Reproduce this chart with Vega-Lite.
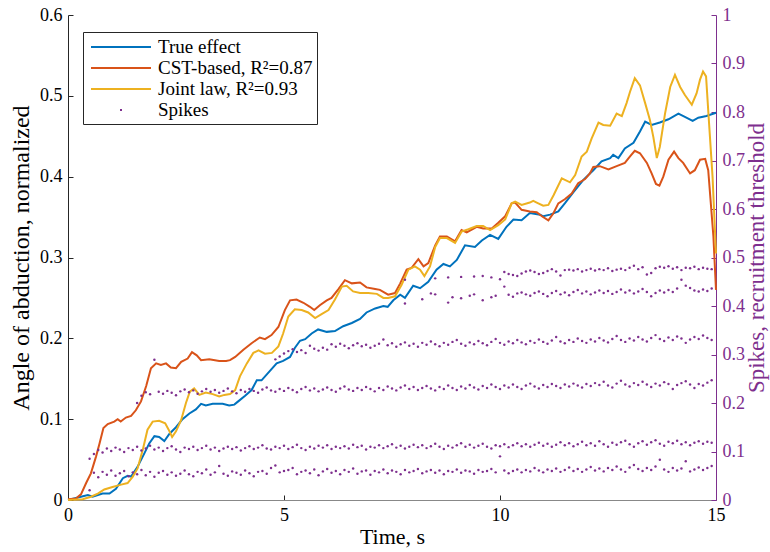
{
"$schema":"https://vega.github.io/schema/vega-lite/v6.json",
"width":648,"height":485,
"autosize":{"type":"none"},
"padding":{"left":68,"top":15,"right":54,"bottom":52},
"background":"white",
"config":{"view":{"stroke":null},"font":"Liberation Serif","axis":{"grid":false,"titleFontWeight":"normal"}},
"datasets":{
"lines":[
{"s":"True effect","t":0,"v":0},{"s":"True effect","t":0.3,"v":0.004},{"s":"True effect","t":0.46,"v":0.006},{"s":"True effect","t":0.57,"v":0.004},{"s":"True effect","t":0.8,"v":0.008},{"s":"True effect","t":0.96,"v":0.008},{"s":"True effect","t":1.11,"v":0.014},{"s":"True effect","t":1.27,"v":0.027},{"s":"True effect","t":1.38,"v":0.03},{"s":"True effect","t":1.46,"v":0.029},{"s":"True effect","t":1.61,"v":0.041},{"s":"True effect","t":1.77,"v":0.058},{"s":"True effect","t":1.88,"v":0.07},{"s":"True effect","t":2.0,"v":0.079},{"s":"True effect","t":2.11,"v":0.078},{"s":"True effect","t":2.23,"v":0.073},{"s":"True effect","t":2.35,"v":0.082},{"s":"True effect","t":2.5,"v":0.09},{"s":"True effect","t":2.65,"v":0.1},{"s":"True effect","t":2.81,"v":0.107},{"s":"True effect","t":2.96,"v":0.112},{"s":"True effect","t":3.08,"v":0.119},{"s":"True effect","t":3.19,"v":0.117},{"s":"True effect","t":3.35,"v":0.119},{"s":"True effect","t":3.58,"v":0.119},{"s":"True effect","t":3.73,"v":0.117},{"s":"True effect","t":3.85,"v":0.118},{"s":"True effect","t":3.94,"v":0.122},{"s":"True effect","t":4.1,"v":0.129},{"s":"True effect","t":4.25,"v":0.136},{"s":"True effect","t":4.37,"v":0.148},{"s":"True effect","t":4.48,"v":0.148},{"s":"True effect","t":4.68,"v":0.16},{"s":"True effect","t":4.83,"v":0.169},{"s":"True effect","t":4.98,"v":0.172},{"s":"True effect","t":5.14,"v":0.177},{"s":"True effect","t":5.25,"v":0.188},{"s":"True effect","t":5.37,"v":0.197},{"s":"True effect","t":5.49,"v":0.199},{"s":"True effect","t":5.64,"v":0.206},{"s":"True effect","t":5.79,"v":0.211},{"s":"True effect","t":5.99,"v":0.208},{"s":"True effect","t":6.18,"v":0.209},{"s":"True effect","t":6.37,"v":0.215},{"s":"True effect","t":6.57,"v":0.219},{"s":"True effect","t":6.76,"v":0.224},{"s":"True effect","t":6.91,"v":0.232},{"s":"True effect","t":7.11,"v":0.237},{"s":"True effect","t":7.3,"v":0.24},{"s":"True effect","t":7.4,"v":0.239},{"s":"True effect","t":7.53,"v":0.247},{"s":"True effect","t":7.69,"v":0.254},{"s":"True effect","t":7.8,"v":0.25},{"s":"True effect","t":7.99,"v":0.265},{"s":"True effect","t":8.15,"v":0.262},{"s":"True effect","t":8.34,"v":0.27},{"s":"True effect","t":8.53,"v":0.285},{"s":"True effect","t":8.69,"v":0.292},{"s":"True effect","t":8.84,"v":0.289},{"s":"True effect","t":9.0,"v":0.297},{"s":"True effect","t":9.19,"v":0.315},{"s":"True effect","t":9.42,"v":0.313},{"s":"True effect","t":9.58,"v":0.321},{"s":"True effect","t":9.77,"v":0.328},{"s":"True effect","t":9.96,"v":0.323},{"s":"True effect","t":10.15,"v":0.338},{"s":"True effect","t":10.31,"v":0.347},{"s":"True effect","t":10.5,"v":0.346},{"s":"True effect","t":10.69,"v":0.355},{"s":"True effect","t":10.93,"v":0.353},{"s":"True effect","t":11.0,"v":0.351},{"s":"True effect","t":11.16,"v":0.353},{"s":"True effect","t":11.35,"v":0.357},{"s":"True effect","t":11.5,"v":0.367},{"s":"True effect","t":11.7,"v":0.381},{"s":"True effect","t":11.93,"v":0.396},{"s":"True effect","t":12.16,"v":0.408},{"s":"True effect","t":12.35,"v":0.419},{"s":"True effect","t":12.55,"v":0.423},{"s":"True effect","t":12.62,"v":0.427},{"s":"True effect","t":12.74,"v":0.423},{"s":"True effect","t":12.89,"v":0.435},{"s":"True effect","t":13.09,"v":0.442},{"s":"True effect","t":13.24,"v":0.456},{"s":"True effect","t":13.36,"v":0.468},{"s":"True effect","t":13.51,"v":0.464},{"s":"True effect","t":13.7,"v":0.467},{"s":"True effect","t":13.9,"v":0.471},{"s":"True effect","t":14.13,"v":0.478},{"s":"True effect","t":14.28,"v":0.474},{"s":"True effect","t":14.46,"v":0.469},{"s":"True effect","t":14.59,"v":0.473},{"s":"True effect","t":14.78,"v":0.475},{"s":"True effect","t":15.0,"v":0.479},
{"s":"CST-based, R²=0.87","t":0,"v":0.001},{"s":"CST-based, R²=0.87","t":0.19,"v":0.002},{"s":"CST-based, R²=0.87","t":0.3,"v":0.007},{"s":"CST-based, R²=0.87","t":0.42,"v":0.021},{"s":"CST-based, R²=0.87","t":0.53,"v":0.033},{"s":"CST-based, R²=0.87","t":0.65,"v":0.054},{"s":"CST-based, R²=0.87","t":0.73,"v":0.07},{"s":"CST-based, R²=0.87","t":0.82,"v":0.089},{"s":"CST-based, R²=0.87","t":0.92,"v":0.094},{"s":"CST-based, R²=0.87","t":1.07,"v":0.097},{"s":"CST-based, R²=0.87","t":1.15,"v":0.1},{"s":"CST-based, R²=0.87","t":1.22,"v":0.097},{"s":"CST-based, R²=0.87","t":1.34,"v":0.102},{"s":"CST-based, R²=0.87","t":1.46,"v":0.104},{"s":"CST-based, R²=0.87","t":1.57,"v":0.111},{"s":"CST-based, R²=0.87","t":1.69,"v":0.122},{"s":"CST-based, R²=0.87","t":1.81,"v":0.141},{"s":"CST-based, R²=0.87","t":1.92,"v":0.163},{"s":"CST-based, R²=0.87","t":2.04,"v":0.169},{"s":"CST-based, R²=0.87","t":2.15,"v":0.167},{"s":"CST-based, R²=0.87","t":2.27,"v":0.169},{"s":"CST-based, R²=0.87","t":2.38,"v":0.164},{"s":"CST-based, R²=0.87","t":2.5,"v":0.163},{"s":"CST-based, R²=0.87","t":2.62,"v":0.171},{"s":"CST-based, R²=0.87","t":2.77,"v":0.175},{"s":"CST-based, R²=0.87","t":2.87,"v":0.183},{"s":"CST-based, R²=0.87","t":2.98,"v":0.179},{"s":"CST-based, R²=0.87","t":3.08,"v":0.173},{"s":"CST-based, R²=0.87","t":3.27,"v":0.174},{"s":"CST-based, R²=0.87","t":3.5,"v":0.172},{"s":"CST-based, R²=0.87","t":3.66,"v":0.172},{"s":"CST-based, R²=0.87","t":3.75,"v":0.173},{"s":"CST-based, R²=0.87","t":3.87,"v":0.177},{"s":"CST-based, R²=0.87","t":4.06,"v":0.186},{"s":"CST-based, R²=0.87","t":4.25,"v":0.194},{"s":"CST-based, R²=0.87","t":4.44,"v":0.201},{"s":"CST-based, R²=0.87","t":4.56,"v":0.199},{"s":"CST-based, R²=0.87","t":4.71,"v":0.204},{"s":"CST-based, R²=0.87","t":4.87,"v":0.214},{"s":"CST-based, R²=0.87","t":5.02,"v":0.235},{"s":"CST-based, R²=0.87","t":5.14,"v":0.247},{"s":"CST-based, R²=0.87","t":5.29,"v":0.248},{"s":"CST-based, R²=0.87","t":5.45,"v":0.244},{"s":"CST-based, R²=0.87","t":5.6,"v":0.239},{"s":"CST-based, R²=0.87","t":5.7,"v":0.235},{"s":"CST-based, R²=0.87","t":5.83,"v":0.241},{"s":"CST-based, R²=0.87","t":5.99,"v":0.247},{"s":"CST-based, R²=0.87","t":6.1,"v":0.25},{"s":"CST-based, R²=0.87","t":6.26,"v":0.261},{"s":"CST-based, R²=0.87","t":6.41,"v":0.272},{"s":"CST-based, R²=0.87","t":6.57,"v":0.268},{"s":"CST-based, R²=0.87","t":6.76,"v":0.269},{"s":"CST-based, R²=0.87","t":6.91,"v":0.263},{"s":"CST-based, R²=0.87","t":7.11,"v":0.261},{"s":"CST-based, R²=0.87","t":7.22,"v":0.26},{"s":"CST-based, R²=0.87","t":7.41,"v":0.254},{"s":"CST-based, R²=0.87","t":7.57,"v":0.256},{"s":"CST-based, R²=0.87","t":7.69,"v":0.268},{"s":"CST-based, R²=0.87","t":7.84,"v":0.285},{"s":"CST-based, R²=0.87","t":7.95,"v":0.287},{"s":"CST-based, R²=0.87","t":8.11,"v":0.298},{"s":"CST-based, R²=0.87","t":8.23,"v":0.289},{"s":"CST-based, R²=0.87","t":8.34,"v":0.293},{"s":"CST-based, R²=0.87","t":8.5,"v":0.315},{"s":"CST-based, R²=0.87","t":8.61,"v":0.326},{"s":"CST-based, R²=0.87","t":8.77,"v":0.326},{"s":"CST-based, R²=0.87","t":8.96,"v":0.32},{"s":"CST-based, R²=0.87","t":9.11,"v":0.334},{"s":"CST-based, R²=0.87","t":9.23,"v":0.331},{"s":"CST-based, R²=0.87","t":9.46,"v":0.338},{"s":"CST-based, R²=0.87","t":9.61,"v":0.336},{"s":"CST-based, R²=0.87","t":9.81,"v":0.336},{"s":"CST-based, R²=0.87","t":9.96,"v":0.343},{"s":"CST-based, R²=0.87","t":10.12,"v":0.351},{"s":"CST-based, R²=0.87","t":10.27,"v":0.367},{"s":"CST-based, R²=0.87","t":10.35,"v":0.368},{"s":"CST-based, R²=0.87","t":10.5,"v":0.359},{"s":"CST-based, R²=0.87","t":10.69,"v":0.357},{"s":"CST-based, R²=0.87","t":10.85,"v":0.356},{"s":"CST-based, R²=0.87","t":10.97,"v":0.351},{"s":"CST-based, R²=0.87","t":11.12,"v":0.346},{"s":"CST-based, R²=0.87","t":11.24,"v":0.355},{"s":"CST-based, R²=0.87","t":11.35,"v":0.367},{"s":"CST-based, R²=0.87","t":11.5,"v":0.372},{"s":"CST-based, R²=0.87","t":11.66,"v":0.379},{"s":"CST-based, R²=0.87","t":11.81,"v":0.392},{"s":"CST-based, R²=0.87","t":11.97,"v":0.397},{"s":"CST-based, R²=0.87","t":12.08,"v":0.404},{"s":"CST-based, R²=0.87","t":12.16,"v":0.412},{"s":"CST-based, R²=0.87","t":12.31,"v":0.413},{"s":"CST-based, R²=0.87","t":12.51,"v":0.409},{"s":"CST-based, R²=0.87","t":12.7,"v":0.413},{"s":"CST-based, R²=0.87","t":12.89,"v":0.417},{"s":"CST-based, R²=0.87","t":13.01,"v":0.425},{"s":"CST-based, R²=0.87","t":13.12,"v":0.432},{"s":"CST-based, R²=0.87","t":13.24,"v":0.429},{"s":"CST-based, R²=0.87","t":13.4,"v":0.417},{"s":"CST-based, R²=0.87","t":13.51,"v":0.404},{"s":"CST-based, R²=0.87","t":13.61,"v":0.391},{"s":"CST-based, R²=0.87","t":13.69,"v":0.389},{"s":"CST-based, R²=0.87","t":13.78,"v":0.4},{"s":"CST-based, R²=0.87","t":13.9,"v":0.421},{"s":"CST-based, R²=0.87","t":14.03,"v":0.431},{"s":"CST-based, R²=0.87","t":14.13,"v":0.423},{"s":"CST-based, R²=0.87","t":14.24,"v":0.417},{"s":"CST-based, R²=0.87","t":14.4,"v":0.404},{"s":"CST-based, R²=0.87","t":14.51,"v":0.408},{"s":"CST-based, R²=0.87","t":14.63,"v":0.421},{"s":"CST-based, R²=0.87","t":14.75,"v":0.422},{"s":"CST-based, R²=0.87","t":14.82,"v":0.408},{"s":"CST-based, R²=0.87","t":14.94,"v":0.326},{"s":"CST-based, R²=0.87","t":15.0,"v":0.26},
{"s":"Joint law, R²=0.93","t":0,"v":0},{"s":"Joint law, R²=0.93","t":0.34,"v":0.001},{"s":"Joint law, R²=0.93","t":0.53,"v":0.004},{"s":"Joint law, R²=0.93","t":0.69,"v":0.008},{"s":"Joint law, R²=0.93","t":0.84,"v":0.013},{"s":"Joint law, R²=0.93","t":1.03,"v":0.016},{"s":"Joint law, R²=0.93","t":1.23,"v":0.019},{"s":"Joint law, R²=0.93","t":1.38,"v":0.021},{"s":"Joint law, R²=0.93","t":1.5,"v":0.029},{"s":"Joint law, R²=0.93","t":1.61,"v":0.039},{"s":"Joint law, R²=0.93","t":1.73,"v":0.062},{"s":"Joint law, R²=0.93","t":1.84,"v":0.087},{"s":"Joint law, R²=0.93","t":1.96,"v":0.097},{"s":"Joint law, R²=0.93","t":2.11,"v":0.098},{"s":"Joint law, R²=0.93","t":2.25,"v":0.095},{"s":"Joint law, R²=0.93","t":2.33,"v":0.087},{"s":"Joint law, R²=0.93","t":2.41,"v":0.078},{"s":"Joint law, R²=0.93","t":2.5,"v":0.085},{"s":"Joint law, R²=0.93","t":2.62,"v":0.099},{"s":"Joint law, R²=0.93","t":2.73,"v":0.12},{"s":"Joint law, R²=0.93","t":2.82,"v":0.134},{"s":"Joint law, R²=0.93","t":2.92,"v":0.138},{"s":"Joint law, R²=0.93","t":3.04,"v":0.13},{"s":"Joint law, R²=0.93","t":3.19,"v":0.133},{"s":"Joint law, R²=0.93","t":3.35,"v":0.131},{"s":"Joint law, R²=0.93","t":3.5,"v":0.128},{"s":"Joint law, R²=0.93","t":3.62,"v":0.13},{"s":"Joint law, R²=0.93","t":3.75,"v":0.131},{"s":"Joint law, R²=0.93","t":3.87,"v":0.136},{"s":"Joint law, R²=0.93","t":3.98,"v":0.153},{"s":"Joint law, R²=0.93","t":4.14,"v":0.169},{"s":"Joint law, R²=0.93","t":4.29,"v":0.182},{"s":"Joint law, R²=0.93","t":4.41,"v":0.185},{"s":"Joint law, R²=0.93","t":4.56,"v":0.181},{"s":"Joint law, R²=0.93","t":4.72,"v":0.182},{"s":"Joint law, R²=0.93","t":4.87,"v":0.19},{"s":"Joint law, R²=0.93","t":4.98,"v":0.206},{"s":"Joint law, R²=0.93","t":5.1,"v":0.227},{"s":"Joint law, R²=0.93","t":5.25,"v":0.236},{"s":"Joint law, R²=0.93","t":5.41,"v":0.235},{"s":"Joint law, R²=0.93","t":5.56,"v":0.232},{"s":"Joint law, R²=0.93","t":5.72,"v":0.225},{"s":"Joint law, R²=0.93","t":5.87,"v":0.23},{"s":"Joint law, R²=0.93","t":6.03,"v":0.235},{"s":"Joint law, R²=0.93","t":6.18,"v":0.248},{"s":"Joint law, R²=0.93","t":6.34,"v":0.264},{"s":"Joint law, R²=0.93","t":6.45,"v":0.265},{"s":"Joint law, R²=0.93","t":6.6,"v":0.258},{"s":"Joint law, R²=0.93","t":6.76,"v":0.256},{"s":"Joint law, R²=0.93","t":6.95,"v":0.256},{"s":"Joint law, R²=0.93","t":7.15,"v":0.255},{"s":"Joint law, R²=0.93","t":7.3,"v":0.25},{"s":"Joint law, R²=0.93","t":7.41,"v":0.25},{"s":"Joint law, R²=0.93","t":7.57,"v":0.252},{"s":"Joint law, R²=0.93","t":7.72,"v":0.266},{"s":"Joint law, R²=0.93","t":7.88,"v":0.285},{"s":"Joint law, R²=0.93","t":8.03,"v":0.289},{"s":"Joint law, R²=0.93","t":8.15,"v":0.285},{"s":"Joint law, R²=0.93","t":8.25,"v":0.277},{"s":"Joint law, R²=0.93","t":8.38,"v":0.289},{"s":"Joint law, R²=0.93","t":8.5,"v":0.313},{"s":"Joint law, R²=0.93","t":8.61,"v":0.324},{"s":"Joint law, R²=0.93","t":8.77,"v":0.324},{"s":"Joint law, R²=0.93","t":8.96,"v":0.318},{"s":"Joint law, R²=0.93","t":9.11,"v":0.332},{"s":"Joint law, R²=0.93","t":9.27,"v":0.335},{"s":"Joint law, R²=0.93","t":9.46,"v":0.339},{"s":"Joint law, R²=0.93","t":9.61,"v":0.339},{"s":"Joint law, R²=0.93","t":9.77,"v":0.334},{"s":"Joint law, R²=0.93","t":9.96,"v":0.34},{"s":"Joint law, R²=0.93","t":10.12,"v":0.347},{"s":"Joint law, R²=0.93","t":10.27,"v":0.367},{"s":"Joint law, R²=0.93","t":10.35,"v":0.369},{"s":"Joint law, R²=0.93","t":10.5,"v":0.365},{"s":"Joint law, R²=0.93","t":10.69,"v":0.368},{"s":"Joint law, R²=0.93","t":10.77,"v":0.37},{"s":"Joint law, R²=0.93","t":10.85,"v":0.368},{"s":"Joint law, R²=0.93","t":11.0,"v":0.364},{"s":"Joint law, R²=0.93","t":11.12,"v":0.365},{"s":"Joint law, R²=0.93","t":11.24,"v":0.377},{"s":"Joint law, R²=0.93","t":11.43,"v":0.398},{"s":"Joint law, R²=0.93","t":11.62,"v":0.393},{"s":"Joint law, R²=0.93","t":11.74,"v":0.402},{"s":"Joint law, R²=0.93","t":11.89,"v":0.425},{"s":"Joint law, R²=0.93","t":12.01,"v":0.431},{"s":"Joint law, R²=0.93","t":12.12,"v":0.447},{"s":"Joint law, R²=0.93","t":12.28,"v":0.467},{"s":"Joint law, R²=0.93","t":12.39,"v":0.464},{"s":"Joint law, R²=0.93","t":12.55,"v":0.463},{"s":"Joint law, R²=0.93","t":12.7,"v":0.478},{"s":"Joint law, R²=0.93","t":12.82,"v":0.475},{"s":"Joint law, R²=0.93","t":12.93,"v":0.491},{"s":"Joint law, R²=0.93","t":13.01,"v":0.505},{"s":"Joint law, R²=0.93","t":13.12,"v":0.522},{"s":"Joint law, R²=0.93","t":13.24,"v":0.513},{"s":"Joint law, R²=0.93","t":13.36,"v":0.491},{"s":"Joint law, R²=0.93","t":13.47,"v":0.47},{"s":"Joint law, R²=0.93","t":13.55,"v":0.449},{"s":"Joint law, R²=0.93","t":13.63,"v":0.423},{"s":"Joint law, R²=0.93","t":13.7,"v":0.437},{"s":"Joint law, R²=0.93","t":13.82,"v":0.478},{"s":"Joint law, R²=0.93","t":13.94,"v":0.511},{"s":"Joint law, R²=0.93","t":14.05,"v":0.526},{"s":"Joint law, R²=0.93","t":14.17,"v":0.511},{"s":"Joint law, R²=0.93","t":14.28,"v":0.501},{"s":"Joint law, R²=0.93","t":14.44,"v":0.489},{"s":"Joint law, R²=0.93","t":14.55,"v":0.503},{"s":"Joint law, R²=0.93","t":14.63,"v":0.52},{"s":"Joint law, R²=0.93","t":14.7,"v":0.53},{"s":"Joint law, R²=0.93","t":14.77,"v":0.524},{"s":"Joint law, R²=0.93","t":14.82,"v":0.482},{"s":"Joint law, R²=0.93","t":14.92,"v":0.4},{"s":"Joint law, R²=0.93","t":15.0,"v":0.305}
],
"spikes":[
{"t":0.5,"v":0.02},{"t":0.6,"v":0.056},{"t":0.7,"v":0.047},{"t":0.8,"v":0.058},{"t":0.9,"v":0.052},{"t":1.0,"v":0.061},{"t":1.1,"v":0.05},{"t":1.2,"v":0.055},{"t":1.3,"v":0.06},{"t":1.4,"v":0.049},{"t":1.5,"v":0.057},{"t":1.6,"v":0.053},{"t":1.7,"v":0.062},{"t":1.8,"v":0.051},{"t":1.9,"v":0.058},{"t":2.0,"v":0.048},{"t":2.1,"v":0.056},{"t":2.2,"v":0.06},{"t":2.3,"v":0.052},{"t":2.4,"v":0.057},{"t":2.5,"v":0.05},{"t":2.6,"v":0.054},{"t":2.7,"v":0.061},{"t":2.8,"v":0.053},{"t":2.9,"v":0.049},{"t":3.0,"v":0.058},{"t":3.1,"v":0.055},{"t":3.2,"v":0.063},{"t":3.3,"v":0.052},{"t":3.4,"v":0.057},{"t":3.5,"v":0.07},{"t":3.6,"v":0.054},{"t":3.7,"v":0.05},{"t":3.8,"v":0.059},{"t":3.9,"v":0.056},{"t":4.0,"v":0.052},{"t":4.1,"v":0.061},{"t":4.2,"v":0.055},{"t":4.3,"v":0.049},{"t":4.4,"v":0.058},{"t":4.5,"v":0.06},{"t":4.6,"v":0.054},{"t":4.7,"v":0.066},{"t":4.8,"v":0.071},{"t":4.9,"v":0.057},{"t":5.0,"v":0.06},{"t":5.1,"v":0.062},{"t":5.2,"v":0.066},{"t":5.3,"v":0.053},{"t":5.4,"v":0.058},{"t":5.5,"v":0.061},{"t":5.6,"v":0.055},{"t":5.7,"v":0.063},{"t":5.8,"v":0.051},{"t":5.9,"v":0.059},{"t":6.0,"v":0.064},{"t":6.1,"v":0.056},{"t":6.2,"v":0.06},{"t":6.3,"v":0.053},{"t":6.4,"v":0.062},{"t":6.5,"v":0.058},{"t":6.6,"v":0.065},{"t":6.7,"v":0.054},{"t":6.8,"v":0.059},{"t":6.9,"v":0.061},{"t":7.0,"v":0.052},{"t":7.1,"v":0.06},{"t":7.2,"v":0.057},{"t":7.3,"v":0.063},{"t":7.4,"v":0.055},{"t":7.5,"v":0.061},{"t":7.6,"v":0.058},{"t":7.7,"v":0.053},{"t":7.8,"v":0.062},{"t":7.9,"v":0.057},{"t":8.0,"v":0.06},{"t":8.1,"v":0.064},{"t":8.2,"v":0.055},{"t":8.3,"v":0.059},{"t":8.4,"v":0.062},{"t":8.5,"v":0.056},{"t":8.6,"v":0.061},{"t":8.7,"v":0.053},{"t":8.8,"v":0.06},{"t":8.9,"v":0.058},{"t":9.0,"v":0.063},{"t":9.1,"v":0.056},{"t":9.2,"v":0.061},{"t":9.3,"v":0.059},{"t":9.4,"v":0.054},{"t":9.5,"v":0.062},{"t":9.6,"v":0.058},{"t":9.7,"v":0.06},{"t":9.8,"v":0.064},{"t":9.9,"v":0.057},{"t":10.0,"v":0.09},{"t":10.1,"v":0.061},{"t":10.2,"v":0.055},{"t":10.3,"v":0.06},{"t":10.4,"v":0.063},{"t":10.5,"v":0.057},{"t":10.6,"v":0.062},{"t":10.7,"v":0.059},{"t":10.8,"v":0.066},{"t":10.9,"v":0.061},{"t":11.0,"v":0.057},{"t":11.1,"v":0.063},{"t":11.2,"v":0.06},{"t":11.3,"v":0.065},{"t":11.4,"v":0.058},{"t":11.5,"v":0.062},{"t":11.6,"v":0.067},{"t":11.7,"v":0.06},{"t":11.8,"v":0.064},{"t":11.9,"v":0.058},{"t":12.0,"v":0.063},{"t":12.1,"v":0.068},{"t":12.2,"v":0.061},{"t":12.3,"v":0.065},{"t":12.4,"v":0.059},{"t":12.5,"v":0.066},{"t":12.6,"v":0.062},{"t":12.7,"v":0.069},{"t":12.8,"v":0.063},{"t":12.9,"v":0.058},{"t":13.0,"v":0.067},{"t":13.1,"v":0.072},{"t":13.2,"v":0.064},{"t":13.3,"v":0.06},{"t":13.4,"v":0.066},{"t":13.5,"v":0.062},{"t":13.6,"v":0.069},{"t":13.7,"v":0.083},{"t":13.8,"v":0.063},{"t":13.9,"v":0.058},{"t":14.0,"v":0.066},{"t":14.1,"v":0.061},{"t":14.2,"v":0.065},{"t":14.3,"v":0.08},{"t":14.4,"v":0.059},{"t":14.5,"v":0.063},{"t":14.6,"v":0.067},{"t":14.7,"v":0.062},{"t":14.8,"v":0.066},{"t":14.9,"v":0.07},
{"t":0.5,"v":0.085},{"t":0.6,"v":0.095},{"t":0.7,"v":0.103},{"t":0.8,"v":0.098},{"t":0.9,"v":0.106},{"t":1.0,"v":0.101},{"t":1.1,"v":0.108},{"t":1.2,"v":0.104},{"t":1.3,"v":0.099},{"t":1.4,"v":0.107},{"t":1.5,"v":0.103},{"t":1.6,"v":0.11},{"t":1.7,"v":0.102},{"t":1.8,"v":0.106},{"t":1.9,"v":0.112},{"t":2.0,"v":0.104},{"t":2.1,"v":0.108},{"t":2.2,"v":0.101},{"t":2.3,"v":0.107},{"t":2.4,"v":0.111},{"t":2.5,"v":0.104},{"t":2.6,"v":0.099},{"t":2.7,"v":0.108},{"t":2.8,"v":0.105},{"t":2.9,"v":0.11},{"t":3.0,"v":0.103},{"t":3.1,"v":0.107},{"t":3.2,"v":0.112},{"t":3.3,"v":0.104},{"t":3.4,"v":0.108},{"t":3.5,"v":0.101},{"t":3.6,"v":0.106},{"t":3.7,"v":0.11},{"t":3.8,"v":0.105},{"t":3.9,"v":0.109},{"t":4.0,"v":0.102},{"t":4.1,"v":0.107},{"t":4.2,"v":0.111},{"t":4.3,"v":0.105},{"t":4.4,"v":0.108},{"t":4.5,"v":0.113},{"t":4.6,"v":0.106},{"t":4.7,"v":0.104},{"t":4.8,"v":0.11},{"t":4.9,"v":0.107},{"t":5.0,"v":0.112},{"t":5.1,"v":0.105},{"t":5.2,"v":0.109},{"t":5.3,"v":0.114},{"t":5.4,"v":0.107},{"t":5.5,"v":0.103},{"t":5.6,"v":0.11},{"t":5.7,"v":0.106},{"t":5.8,"v":0.112},{"t":5.9,"v":0.108},{"t":6.0,"v":0.113},{"t":6.1,"v":0.105},{"t":6.2,"v":0.11},{"t":6.3,"v":0.107},{"t":6.4,"v":0.111},{"t":6.5,"v":0.106},{"t":6.6,"v":0.114},{"t":6.7,"v":0.109},{"t":6.8,"v":0.112},{"t":6.9,"v":0.104},{"t":7.0,"v":0.11},{"t":7.1,"v":0.108},{"t":7.2,"v":0.113},{"t":7.3,"v":0.107},{"t":7.4,"v":0.111},{"t":7.5,"v":0.115},{"t":7.6,"v":0.108},{"t":7.7,"v":0.112},{"t":7.8,"v":0.106},{"t":7.9,"v":0.11},{"t":8.0,"v":0.114},{"t":8.1,"v":0.109},{"t":8.2,"v":0.113},{"t":8.3,"v":0.107},{"t":8.4,"v":0.111},{"t":8.5,"v":0.116},{"t":8.6,"v":0.11},{"t":8.7,"v":0.105},{"t":8.8,"v":0.112},{"t":8.9,"v":0.108},{"t":9.0,"v":0.113},{"t":9.1,"v":0.117},{"t":9.2,"v":0.11},{"t":9.3,"v":0.114},{"t":9.4,"v":0.108},{"t":9.5,"v":0.112},{"t":9.6,"v":0.116},{"t":9.7,"v":0.11},{"t":9.8,"v":0.106},{"t":9.9,"v":0.113},{"t":10.0,"v":0.111},{"t":10.1,"v":0.115},{"t":10.2,"v":0.109},{"t":10.3,"v":0.113},{"t":10.4,"v":0.117},{"t":10.5,"v":0.111},{"t":10.6,"v":0.115},{"t":10.7,"v":0.11},{"t":10.8,"v":0.114},{"t":10.9,"v":0.118},{"t":11.0,"v":0.112},{"t":11.1,"v":0.116},{"t":11.2,"v":0.11},{"t":11.3,"v":0.114},{"t":11.4,"v":0.119},{"t":11.5,"v":0.113},{"t":11.6,"v":0.117},{"t":11.7,"v":0.111},{"t":11.8,"v":0.115},{"t":11.9,"v":0.12},{"t":12.0,"v":0.113},{"t":12.1,"v":0.117},{"t":12.2,"v":0.112},{"t":12.3,"v":0.121},{"t":12.4,"v":0.115},{"t":12.5,"v":0.11},{"t":12.6,"v":0.118},{"t":12.7,"v":0.114},{"t":12.8,"v":0.119},{"t":12.9,"v":0.122},{"t":13.0,"v":0.115},{"t":13.1,"v":0.11},{"t":13.2,"v":0.117},{"t":13.3,"v":0.121},{"t":13.4,"v":0.114},{"t":13.5,"v":0.119},{"t":13.6,"v":0.123},{"t":13.7,"v":0.116},{"t":13.8,"v":0.112},{"t":13.9,"v":0.12},{"t":14.0,"v":0.117},{"t":14.1,"v":0.122},{"t":14.2,"v":0.115},{"t":14.3,"v":0.119},{"t":14.4,"v":0.113},{"t":14.5,"v":0.118},{"t":14.6,"v":0.121},{"t":14.7,"v":0.116},{"t":14.8,"v":0.12},{"t":14.9,"v":0.118},
{"t":1.6,"v":0.2},{"t":1.7,"v":0.215},{"t":1.8,"v":0.222},{"t":1.9,"v":0.218},{"t":2.0,"v":0.289},{"t":2.1,"v":0.223},{"t":2.2,"v":0.219},{"t":2.3,"v":0.225},{"t":2.4,"v":0.221},{"t":2.5,"v":0.216},{"t":2.6,"v":0.224},{"t":2.7,"v":0.228},{"t":2.8,"v":0.222},{"t":2.9,"v":0.226},{"t":3.0,"v":0.219},{"t":3.1,"v":0.224},{"t":3.2,"v":0.229},{"t":3.3,"v":0.223},{"t":3.4,"v":0.227},{"t":3.5,"v":0.221},{"t":3.6,"v":0.225},{"t":3.7,"v":0.23},{"t":3.8,"v":0.224},{"t":3.9,"v":0.22},{"t":4.0,"v":0.227},{"t":4.1,"v":0.223},{"t":4.2,"v":0.229},{"t":4.3,"v":0.225},{"t":4.4,"v":0.221},{"t":4.5,"v":0.228},{"t":4.6,"v":0.232},{"t":4.7,"v":0.226},{"t":4.8,"v":0.223},{"t":4.9,"v":0.229},{"t":5.0,"v":0.225},{"t":5.1,"v":0.231},{"t":5.2,"v":0.227},{"t":5.3,"v":0.222},{"t":5.4,"v":0.229},{"t":5.5,"v":0.233},{"t":5.6,"v":0.226},{"t":5.7,"v":0.23},{"t":5.8,"v":0.224},{"t":5.9,"v":0.228},{"t":6.0,"v":0.232},{"t":6.1,"v":0.227},{"t":6.2,"v":0.223},{"t":6.3,"v":0.23},{"t":6.4,"v":0.234},{"t":6.5,"v":0.228},{"t":6.6,"v":0.225},{"t":6.7,"v":0.231},{"t":6.8,"v":0.227},{"t":6.9,"v":0.233},{"t":7.0,"v":0.229},{"t":7.1,"v":0.224},{"t":7.2,"v":0.231},{"t":7.3,"v":0.227},{"t":7.4,"v":0.234},{"t":7.5,"v":0.23},{"t":7.6,"v":0.226},{"t":7.7,"v":0.232},{"t":7.8,"v":0.236},{"t":7.9,"v":0.229},{"t":8.0,"v":0.233},{"t":8.1,"v":0.227},{"t":8.2,"v":0.231},{"t":8.3,"v":0.235},{"t":8.4,"v":0.23},{"t":8.5,"v":0.226},{"t":8.6,"v":0.233},{"t":8.7,"v":0.229},{"t":8.8,"v":0.236},{"t":8.9,"v":0.231},{"t":9.0,"v":0.227},{"t":9.1,"v":0.234},{"t":9.2,"v":0.23},{"t":9.3,"v":0.237},{"t":9.4,"v":0.232},{"t":9.5,"v":0.228},{"t":9.6,"v":0.235},{"t":9.7,"v":0.231},{"t":9.8,"v":0.238},{"t":9.9,"v":0.233},{"t":10.0,"v":0.229},{"t":10.1,"v":0.236},{"t":10.2,"v":0.232},{"t":10.3,"v":0.238},{"t":10.4,"v":0.233},{"t":10.5,"v":0.229},{"t":10.6,"v":0.236},{"t":10.7,"v":0.24},{"t":10.8,"v":0.234},{"t":10.9,"v":0.23},{"t":11.0,"v":0.237},{"t":11.1,"v":0.233},{"t":11.2,"v":0.239},{"t":11.3,"v":0.235},{"t":11.4,"v":0.231},{"t":11.5,"v":0.238},{"t":11.6,"v":0.234},{"t":11.7,"v":0.24},{"t":11.8,"v":0.236},{"t":11.9,"v":0.232},{"t":12.0,"v":0.239},{"t":12.1,"v":0.235},{"t":12.2,"v":0.241},{"t":12.3,"v":0.237},{"t":12.4,"v":0.244},{"t":12.5,"v":0.236},{"t":12.6,"v":0.232},{"t":12.7,"v":0.24},{"t":12.8,"v":0.246},{"t":12.9,"v":0.238},{"t":13.0,"v":0.234},{"t":13.1,"v":0.241},{"t":13.2,"v":0.237},{"t":13.3,"v":0.244},{"t":13.4,"v":0.238},{"t":13.5,"v":0.233},{"t":13.6,"v":0.24},{"t":13.7,"v":0.236},{"t":13.8,"v":0.243},{"t":13.9,"v":0.239},{"t":14.0,"v":0.229},{"t":14.1,"v":0.237},{"t":14.2,"v":0.241},{"t":14.3,"v":0.245},{"t":14.4,"v":0.238},{"t":14.5,"v":0.231},{"t":14.6,"v":0.239},{"t":14.7,"v":0.236},{"t":14.8,"v":0.242},{"t":14.9,"v":0.247},
{"t":4.8,"v":0.29},{"t":4.9,"v":0.296},{"t":5.0,"v":0.302},{"t":5.1,"v":0.307},{"t":5.2,"v":0.311},{"t":5.3,"v":0.305},{"t":5.4,"v":0.309},{"t":5.5,"v":0.303},{"t":5.6,"v":0.318},{"t":5.7,"v":0.312},{"t":5.8,"v":0.308},{"t":5.9,"v":0.314},{"t":6.0,"v":0.31},{"t":6.1,"v":0.321},{"t":6.2,"v":0.316},{"t":6.3,"v":0.322},{"t":6.4,"v":0.318},{"t":6.5,"v":0.313},{"t":6.6,"v":0.319},{"t":6.7,"v":0.323},{"t":6.8,"v":0.317},{"t":6.9,"v":0.32},{"t":7.0,"v":0.314},{"t":7.1,"v":0.318},{"t":7.2,"v":0.322},{"t":7.3,"v":0.331},{"t":7.4,"v":0.319},{"t":7.5,"v":0.323},{"t":7.6,"v":0.316},{"t":7.7,"v":0.321},{"t":7.8,"v":0.325},{"t":7.9,"v":0.318},{"t":8.0,"v":0.322},{"t":8.1,"v":0.316},{"t":8.2,"v":0.324},{"t":8.3,"v":0.32},{"t":8.4,"v":0.327},{"t":8.5,"v":0.321},{"t":8.6,"v":0.317},{"t":8.7,"v":0.324},{"t":8.8,"v":0.32},{"t":8.9,"v":0.326},{"t":9.0,"v":0.33},{"t":9.1,"v":0.322},{"t":9.2,"v":0.318},{"t":9.3,"v":0.325},{"t":9.4,"v":0.321},{"t":9.5,"v":0.328},{"t":9.6,"v":0.323},{"t":9.7,"v":0.319},{"t":9.8,"v":0.326},{"t":9.9,"v":0.332},{"t":10.0,"v":0.324},{"t":10.1,"v":0.32},{"t":10.2,"v":0.327},{"t":10.3,"v":0.323},{"t":10.4,"v":0.33},{"t":10.5,"v":0.325},{"t":10.6,"v":0.321},{"t":10.7,"v":0.328},{"t":10.8,"v":0.324},{"t":10.9,"v":0.331},{"t":11.0,"v":0.326},{"t":11.1,"v":0.322},{"t":11.2,"v":0.329},{"t":11.3,"v":0.336},{"t":11.4,"v":0.327},{"t":11.5,"v":0.323},{"t":11.6,"v":0.33},{"t":11.7,"v":0.326},{"t":11.8,"v":0.333},{"t":11.9,"v":0.328},{"t":12.0,"v":0.324},{"t":12.1,"v":0.331},{"t":12.2,"v":0.327},{"t":12.3,"v":0.334},{"t":12.4,"v":0.329},{"t":12.5,"v":0.325},{"t":12.6,"v":0.332},{"t":12.7,"v":0.338},{"t":12.8,"v":0.33},{"t":12.9,"v":0.326},{"t":13.0,"v":0.333},{"t":13.1,"v":0.329},{"t":13.2,"v":0.336},{"t":13.3,"v":0.331},{"t":13.4,"v":0.327},{"t":13.5,"v":0.334},{"t":13.6,"v":0.34},{"t":13.7,"v":0.332},{"t":13.8,"v":0.328},{"t":13.9,"v":0.335},{"t":14.0,"v":0.33},{"t":14.1,"v":0.337},{"t":14.2,"v":0.333},{"t":14.3,"v":0.324},{"t":14.4,"v":0.331},{"t":14.5,"v":0.336},{"t":14.6,"v":0.332},{"t":14.7,"v":0.339},{"t":14.8,"v":0.334},{"t":14.9,"v":0.33},
{"t":7.8,"v":0.405},{"t":8.2,"v":0.414},{"t":8.4,"v":0.426},{"t":8.5,"v":0.424},{"t":8.8,"v":0.407},{"t":8.9,"v":0.418},{"t":9.1,"v":0.416},{"t":9.3,"v":0.421},{"t":9.4,"v":0.424},{"t":9.6,"v":0.412},{"t":9.8,"v":0.418},{"t":9.9,"v":0.421},{"t":10.1,"v":0.44},{"t":10.2,"v":0.423},{"t":10.3,"v":0.419},{"t":10.4,"v":0.426},{"t":10.5,"v":0.428},{"t":10.6,"v":0.424},{"t":10.7,"v":0.421},{"t":10.8,"v":0.427},{"t":10.9,"v":0.43},{"t":11.0,"v":0.425},{"t":11.1,"v":0.42},{"t":11.2,"v":0.427},{"t":11.3,"v":0.431},{"t":11.4,"v":0.424},{"t":11.5,"v":0.428},{"t":11.6,"v":0.422},{"t":11.7,"v":0.429},{"t":11.8,"v":0.433},{"t":11.9,"v":0.426},{"t":12.0,"v":0.43},{"t":12.1,"v":0.424},{"t":12.2,"v":0.428},{"t":12.3,"v":0.432},{"t":12.4,"v":0.427},{"t":12.5,"v":0.431},{"t":12.6,"v":0.425},{"t":12.7,"v":0.429},{"t":12.8,"v":0.434},{"t":12.9,"v":0.428},{"t":13.0,"v":0.432},{"t":13.1,"v":0.426},{"t":13.2,"v":0.43},{"t":13.3,"v":0.435},{"t":13.4,"v":0.429},{"t":13.5,"v":0.42},{"t":13.6,"v":0.427},{"t":13.7,"v":0.432},{"t":13.8,"v":0.428},{"t":13.9,"v":0.433},{"t":14.0,"v":0.429},{"t":14.1,"v":0.436},{"t":14.2,"v":0.454},{"t":14.3,"v":0.442},{"t":14.4,"v":0.437},{"t":14.5,"v":0.432},{"t":14.6,"v":0.43},{"t":14.7,"v":0.434},{"t":14.8,"v":0.431},{"t":14.9,"v":0.436},
{"t":7.8,"v":0.454},{"t":8.5,"v":0.457},{"t":8.8,"v":0.459},{"t":9.1,"v":0.46},{"t":9.4,"v":0.461},{"t":9.6,"v":0.462},{"t":9.8,"v":0.459},{"t":10.0,"v":0.455},{"t":10.1,"v":0.47},{"t":10.2,"v":0.466},{"t":10.3,"v":0.464},{"t":10.4,"v":0.462},{"t":10.5,"v":0.467},{"t":10.6,"v":0.471},{"t":10.7,"v":0.473},{"t":10.8,"v":0.47},{"t":10.9,"v":0.466},{"t":11.0,"v":0.468},{"t":11.1,"v":0.472},{"t":11.2,"v":0.476},{"t":11.3,"v":0.471},{"t":11.4,"v":0.463},{"t":11.5,"v":0.474},{"t":11.6,"v":0.475},{"t":11.7,"v":0.473},{"t":11.8,"v":0.476},{"t":11.9,"v":0.471},{"t":12.0,"v":0.474},{"t":12.1,"v":0.477},{"t":12.2,"v":0.473},{"t":12.3,"v":0.476},{"t":12.4,"v":0.474},{"t":12.5,"v":0.478},{"t":12.6,"v":0.472},{"t":12.7,"v":0.475},{"t":12.8,"v":0.477},{"t":12.9,"v":0.474},{"t":13.0,"v":0.479},{"t":13.1,"v":0.483},{"t":13.2,"v":0.476},{"t":13.3,"v":0.48},{"t":13.4,"v":0.465},{"t":13.5,"v":0.468},{"t":13.6,"v":0.478},{"t":13.7,"v":0.481},{"t":13.8,"v":0.479},{"t":13.9,"v":0.482},{"t":14.0,"v":0.477},{"t":14.1,"v":0.48},{"t":14.2,"v":0.474},{"t":14.3,"v":0.479},{"t":14.4,"v":0.478},{"t":14.5,"v":0.481},{"t":14.6,"v":0.476},{"t":14.7,"v":0.479},{"t":14.8,"v":0.477},{"t":14.9,"v":0.476}
]},
"layer":[
{"data":{"name":"lines"},
 "mark":{"type":"line","strokeWidth":2},
 "encoding":{
  "x":{"field":"t","type":"quantitative","scale":{"domain":[0,15],"nice":false},
   "axis":{"values":[0,5,10,15],"format":"d","title":"Time, s","labelFont":"Liberation Serif","labelFontSize":18,"labelColor":"#000","labelFlush":false,"labelPadding":11,"tickSize":-5,"tickColor":"#262626","domainColor":"#888","titleFont":"Liberation Serif","titleFontSize":22,"titleColor":"#000","titlePadding":2}},
  "y":{"field":"v","type":"quantitative","scale":{"domain":[0,0.6],"nice":false},
   "axis":{"values":[0,0.1,0.2,0.3,0.4,0.5,0.6],"format":"~g","title":"Angle of abduction, normalized","labelFont":"Liberation Serif","labelFontSize":18,"labelColor":"#000","labelFlush":false,"labelPadding":11,"tickSize":-5,"tickColor":"#262626","domainColor":"#262626","titleFont":"Liberation Serif","titleFontSize":24,"titleColor":"#000","titlePadding":6}},
  "color":{"field":"s","type":"nominal",
   "scale":{"domain":["True effect","CST-based, R²=0.87","Joint law, R²=0.93","Spikes"],"range":["#0072BD","#D95319","#EDB120","#7E2F8E"]},
   "legend":{"orient":"none","legendX":15,"legendY":17,"title":null,"padding":4,"strokeColor":"#262626","fillColor":"#ffffff",
    "symbolType":"M-3,0H3","symbolSize":400,"symbolStrokeWidth":2,"symbolOffset":23,"labelOffset":26,
    "labelFont":"Liberation Serif","labelFontSize":19,"labelColor":"#000","labelLimit":0,"rowPadding":0,
    "encode":{"symbols":{"update":{"shape":{"signal":"datum.value === 'Spikes' ? 'M-0.1,0H0.1' : 'M-3,0H3'"},"stroke":{"scale":"color","field":"value"},"fill":{"value":"transparent"},"opacity":{"value":1}}}}}}
 }},
{"data":{"name":"spikes"},
 "mark":{"type":"point","filled":true,"size":6,"shape":"circle","opacity":1},
 "encoding":{
  "x":{"field":"t","type":"quantitative"},
  "y":{"field":"v","type":"quantitative","scale":{"domain":[0,1],"nice":false},
   "axis":{"orient":"right","values":[0,0.1,0.2,0.3,0.4,0.5,0.6,0.7,0.8,0.9,1],"format":"~g","title":"Spikes, recruitment threshold","labelFont":"Liberation Serif","labelFontSize":18,"labelColor":"#7E2F8E","labelFlush":false,"labelPadding":11,"tickSize":-5,"tickColor":"#7E2F8E","domainColor":"#7E2F8E","titleFont":"Liberation Serif","titleFontSize":23,"titleColor":"#7E2F8E","titlePadding":1,"titleAngle":270,"titleBaseline":"top"}},
  "color":{"datum":"Spikes","type":"nominal"}
 }}
],
"resolve":{"scale":{"y":"independent"}}
}
